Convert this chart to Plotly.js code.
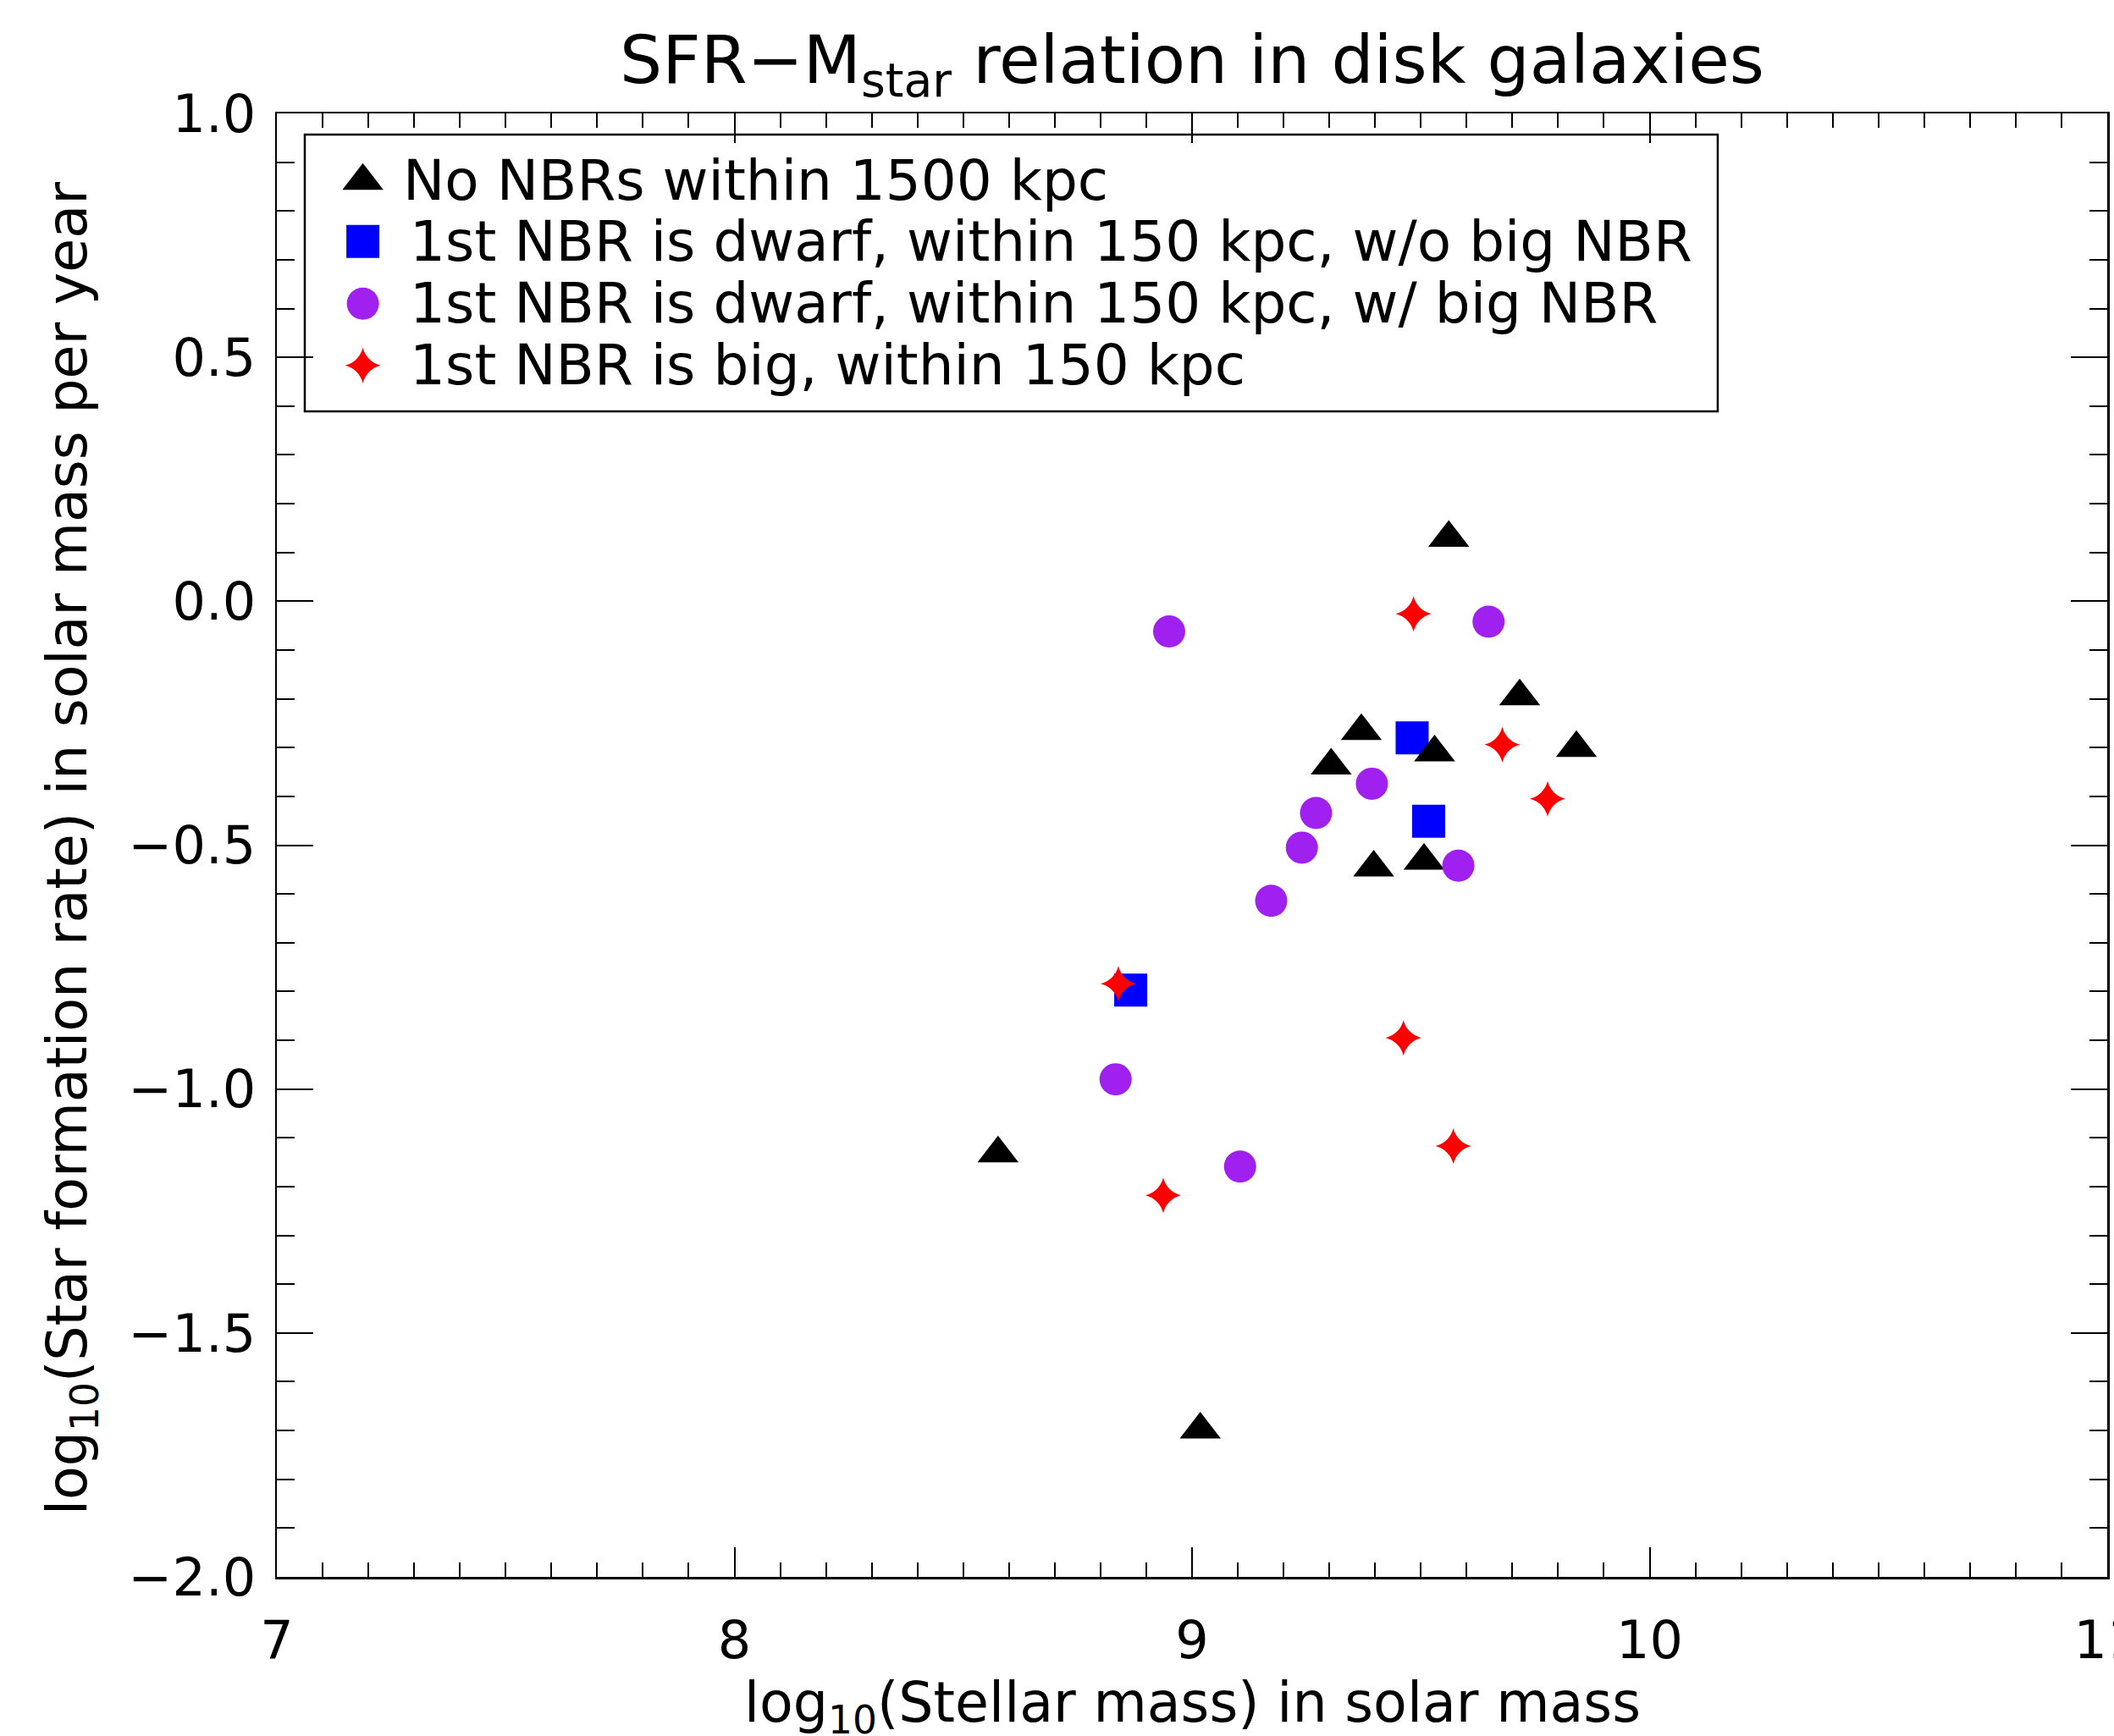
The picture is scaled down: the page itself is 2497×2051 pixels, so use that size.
<!DOCTYPE html>
<html><head><meta charset="utf-8">
<script src="https://cdn.plot.ly/plotly-3.0.1.min.js"></script>
<style>html,body{margin:0;padding:0;background:#fff;overflow:hidden}</style>
</head><body><div id="chart" style="width:2497px;height:2051px"></div>
<script>
// ---- data ----
const isolatedX   = [9.561, 9.716, 9.370, 9.530, 9.304, 9.840, 9.397, 9.507, 8.576, 9.018];
const isolatedY   = [0.130, -0.195, -0.266, -0.310, -0.337, -0.301, -0.546, -0.532, -1.132, -1.698];
const dwarfNoBigX = [9.481, 9.517, 8.866];
const dwarfNoBigY = [-0.280, -0.451, -0.797];
const dwarfBigX   = [8.950, 9.648, 9.393, 9.271, 9.240, 9.582, 9.173, 8.833, 9.105];
const dwarfBigY   = [-0.062, -0.042, -0.374, -0.434, -0.505, -0.542, -0.614, -0.980, -1.159];
const bigNbrX     = [9.484, 9.678, 9.777, 8.839, 9.462, 9.571, 8.937];
const bigNbrY     = [-0.026, -0.294, -0.405, -0.784, -0.895, -1.117, -1.218];

const seriesNames = [
  'No NBRs within 1500 kpc',
  '1st NBR is dwarf, within 150 kpc, w/o big NBR',
  '1st NBR is dwarf, within 150 kpc, w/ big NBR',
  '1st NBR is big, within 150 kpc'
];
const xTickVals = [7, 8, 9, 10, 11];
const yTickVals = [-2.0, -1.5, -1.0, -0.5, 0.0, 0.5, 1.0];
const titleText  = 'SFR\u2212M<sub>star</sub> relation in disk galaxies';
const xTitleText = 'log<sub>10</sub>(Stellar mass) in solar mass';
const yTitleText = 'log<sub>10</sub>(Star formation rate) in solar mass per year';

// ---- styles ----
const FONT = 'DejaVu Sans';
const symbols = ['triangle-up', 'square', 'circle', 'star-diamond'];
const colors  = ['#000000', '#0000ff', '#a020f0', '#ff0000'];
const sizes   = [42, 39, 38, 30];

function mk(i, x, y, xa, ya) {
  return {
    type: 'scatter', mode: 'markers', x: x, y: y, name: seriesNames[i],
    xaxis: xa || 'x', yaxis: ya || 'y', hoverinfo: 'skip',
    marker: {symbol: symbols[i], color: colors[i], size: sizes[i], line: {width: 0}}
  };
}

const traces = [
  mk(1, dwarfNoBigX, dwarfNoBigY),
  mk(0, isolatedX, isolatedY),
  mk(2, dwarfBigX, dwarfBigY),
  mk(3, bigNbrX, bigNbrY)
];

// custom legend drawn on an overlay axis pair (0..1)
const legX = 0.047, legTextX = 0.0717;
const legY = [0.9539, 0.9125, 0.8700, 0.8278];
seriesNames.forEach(function (n, i) {
  traces.push(mk(i, [legX], [legY[i]], 'x2', 'y2'));
});

const annotations = seriesNames.map(function (n, i) {
  return {xref: 'paper', yref: 'paper', x: i === 0 ? 0.068 : legTextX, y: legY[i], text: n,
    showarrow: false, xanchor: 'left', yanchor: 'middle',
    font: {family: FONT, size: 66, color: '#000'}};
});
// axis titles
annotations.push({xref: 'paper', yref: 'paper', x: 0.5, y: -0.0885, text: xTitleText,
  showarrow: false, xanchor: 'center', yanchor: 'middle',
  font: {family: FONT, size: 65, color: '#000'}});
annotations.push({xref: 'paper', yref: 'paper', x: -0.1119, y: 0.4974, text: yTitleText,
  showarrow: false, xanchor: 'center', yanchor: 'middle', textangle: -90,
  font: {family: FONT, size: 65, color: '#000'}});

const axCommon = {
  ticks: 'inside', tickwidth: 2, tickcolor: '#000',
  showline: true, linewidth: 2.5, linecolor: '#000', mirror: 'ticks',
  showgrid: false, zeroline: false, ticklabeloverflow: 'allow',
  tickfont: {family: FONT, size: 62, color: '#000'}
};

const layout = {
  width: 2497, height: 2051,
  margin: {l: 327, r: 8, t: 134, b: 188, pad: 0},
  paper_bgcolor: '#fff', plot_bgcolor: '#fff',
  showlegend: false,
  font: {family: FONT, color: '#000'},
  title: {text: titleText,
    font: {family: FONT, size: 79, color: '#000'},
    xref: 'paper', x: 0.5, xanchor: 'center', yref: 'container', y: 0.9659, yanchor: 'middle'},
  xaxis: Object.assign({}, axCommon, {
    range: [7, 11], tickmode: 'array', tickvals: xTickVals, ticklen: 35,
    ticklabelstandoff: 19,
    minor: {dtick: 0.1, ticks: 'inside', ticklen: 17, tickwidth: 2, tickcolor: '#000', showgrid: false}
  }),
  yaxis: Object.assign({}, axCommon, {
    range: [-2, 1], tickmode: 'array', tickvals: yTickVals, tickformat: '.1f', ticklen: 43,
    ticklabelstandoff: 10,
    minor: {dtick: 0.1, ticks: 'inside', ticklen: 21, tickwidth: 2, tickcolor: '#000', showgrid: false}
  }),
  xaxis2: {domain: [0, 1], range: [0, 1], overlaying: 'x', visible: false, fixedrange: true},
  yaxis2: {domain: [0, 1], range: [0, 1], overlaying: 'y', visible: false, fixedrange: true},
  shapes: [{type: 'rect', xref: 'paper', yref: 'paper', x0: 0.01526, x1: 0.7872, y0: 0.7964, y1: 0.98554,
    line: {color: '#000', width: 2.5}, fillcolor: 'rgba(0,0,0,0)', layer: 'below'}],
  annotations: annotations
};

Plotly.newPlot('chart', traces, layout, {staticPlot: true, displayModeBar: false});
</script>
</body></html>
